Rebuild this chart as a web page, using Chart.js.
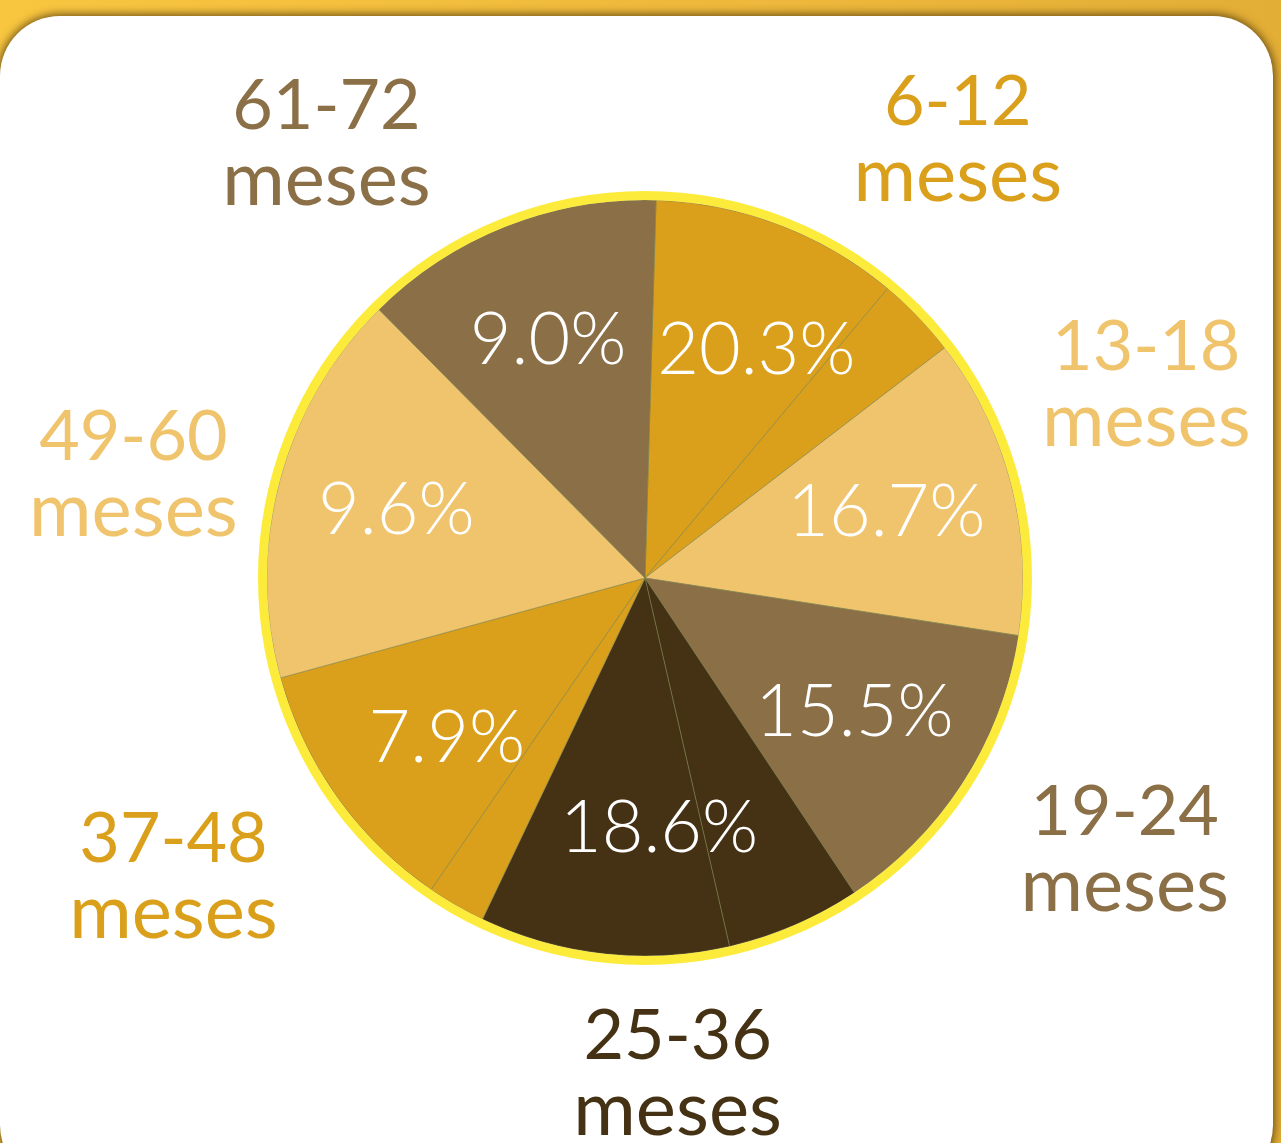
<!DOCTYPE html>
<html>
<head>
<meta charset="utf-8">
<script src="https://cdn.jsdelivr.net/npm/chart.js@4.4.1/dist/chart.umd.min.js"></script>
<style>
  html, body { margin: 0; padding: 0; }
  body {
    width: 1281px; height: 1143px; overflow: hidden; position: relative;
    background: linear-gradient(90deg, #F9C640 0%, #EDB83B 60%, #E3AE36 100%);
  }
  #panel {
    position: absolute; left: 0; top: 16px; width: 1273px; height: 1169px;
    background: #fff; border-radius: 60px;
    box-shadow: 0 0 9px 2px rgba(70, 50, 10, 0.75);
  }
  #wrap { position: absolute; left: 0; top: 0; width: 1281px; height: 1143px; }
</style>
</head>
<body>
<div id="panel"></div>
<div id="wrap"><canvas id="chart"></canvas></div>
<script>
// age groups and their printed shares
const categories = ['6-12 meses', '13-18 meses', '19-24 meses', '25-36 meses', '37-48 meses', '49-60 meses', '61-72 meses'];
const percentLabels = ['20.3%', '16.7%', '15.5%', '18.6%', '7.9%', '9.6%', '9.0%'];
const groupColors = ['#DAA01C', '#F0C46C', '#8B6F47', '#453215', '#DAA01C', '#F0C46C', '#8B6F47'];

// slices as drawn in the picture (degrees), several slices belong to one group
const segmentShare = [38.3, 12.5, 46.3, 47.6, 20.7, 38.4, 9.0, 40.2, 60.6, 46.4];
const segmentGroup = [0, 0, 1, 2, 3, 3, 4, 4, 5, 6];

// where the group names sit: angle from top (deg) and distance in pie radii
const outerLabelPlace = [
    { deg: 37.0, r: 1.375 }, { deg: 71.3, r: 1.40 }, { deg: 121.6, r: 1.49 },
    { deg: 176.4, r: 1.375 }, { deg: 235.7, r: 1.51 }, { deg: 278.9, r: 1.37 },
    { deg: 322.2, r: 1.375 }
];

const yellowRing = {
    id: 'yellowRing',
    afterDatasetsDraw(chart) {
        const { ctx } = chart;
        const arc = chart.getDatasetMeta(0).data[0];
        ctx.save();
        ctx.beginPath();
        ctx.arc(arc.x, arc.y, arc.outerRadius + 4.5, 0, Math.PI * 2);
        ctx.lineWidth = 9;
        ctx.strokeStyle = '#FDEB3C';
        ctx.stroke();
        ctx.restore();
    }
};

const groupLabels = {
    id: 'groupLabels',
    afterDatasetsDraw(chart) {
        const { ctx } = chart;
        const arcs = chart.getDatasetMeta(0).data;
        const cx = arcs[0].x, cy = arcs[0].y, R = arcs[0].outerRadius;
        ctx.save();
        ctx.textAlign = 'center';

        //percent inside
        ctx.font = '300 72px Lato';
        ctx.fillStyle = '#ffffff';
        ctx.textBaseline = 'middle';
        categories.forEach((c, g) => {
            let s = Infinity, e = -Infinity;
            arcs.forEach((a, i) => {
                if (segmentGroup[i] === g) {
                    s = Math.min(s, a.startAngle);
                    e = Math.max(e, a.endAngle);
                }
            });
            const mid = (s + e) / 2;
            ctx.fillText(percentLabels[g], cx + R * 0.67 * Math.cos(mid) - 4, cy + R * 0.67 * Math.sin(mid) - 2);
        });

        //names outside
        ctx.textBaseline = 'alphabetic';
        categories.forEach((c, g) => {
            const p = outerLabelPlace[g];
            const t = p.deg * Math.PI / 180;
            const x = cx + R * p.r * Math.sin(t);
            const y = cy - R * p.r * Math.cos(t);
            const parts = c.split(' ');
            ctx.fillStyle = groupColors[g];
            ctx.font = '70px Lato';
            ctx.fillText(parts[0], x, y - 38);
            ctx.font = '76px Lato';
            ctx.fillText(parts[1], x, y + 38);
        });
        ctx.restore();
    }
};

const config = {
    type: 'pie',
    data: {
        labels: segmentShare.map((v, i) => categories[segmentGroup[i]]),
        datasets: [{
            data: segmentShare,
            backgroundColor: segmentGroup.map(g => groupColors[g]),
            borderColor: 'rgba(120, 125, 70, 0.55)',
            borderWidth: 1,
            hoverOffset: 0
        }]
    },
    options: {
        responsive: true,
        maintainAspectRatio: false,
        animation: false,
        rotation: 1.67,
        radius: 378,
        layout: { padding: { left: 9, top: 13 } },
        plugins: {
            legend: { display: false },
            tooltip: { enabled: false }
        }
    },
    plugins: [yellowRing, groupLabels]
};

const myChart = new Chart(document.getElementById('chart').getContext('2d'), config);
</script>
</body>
</html>
